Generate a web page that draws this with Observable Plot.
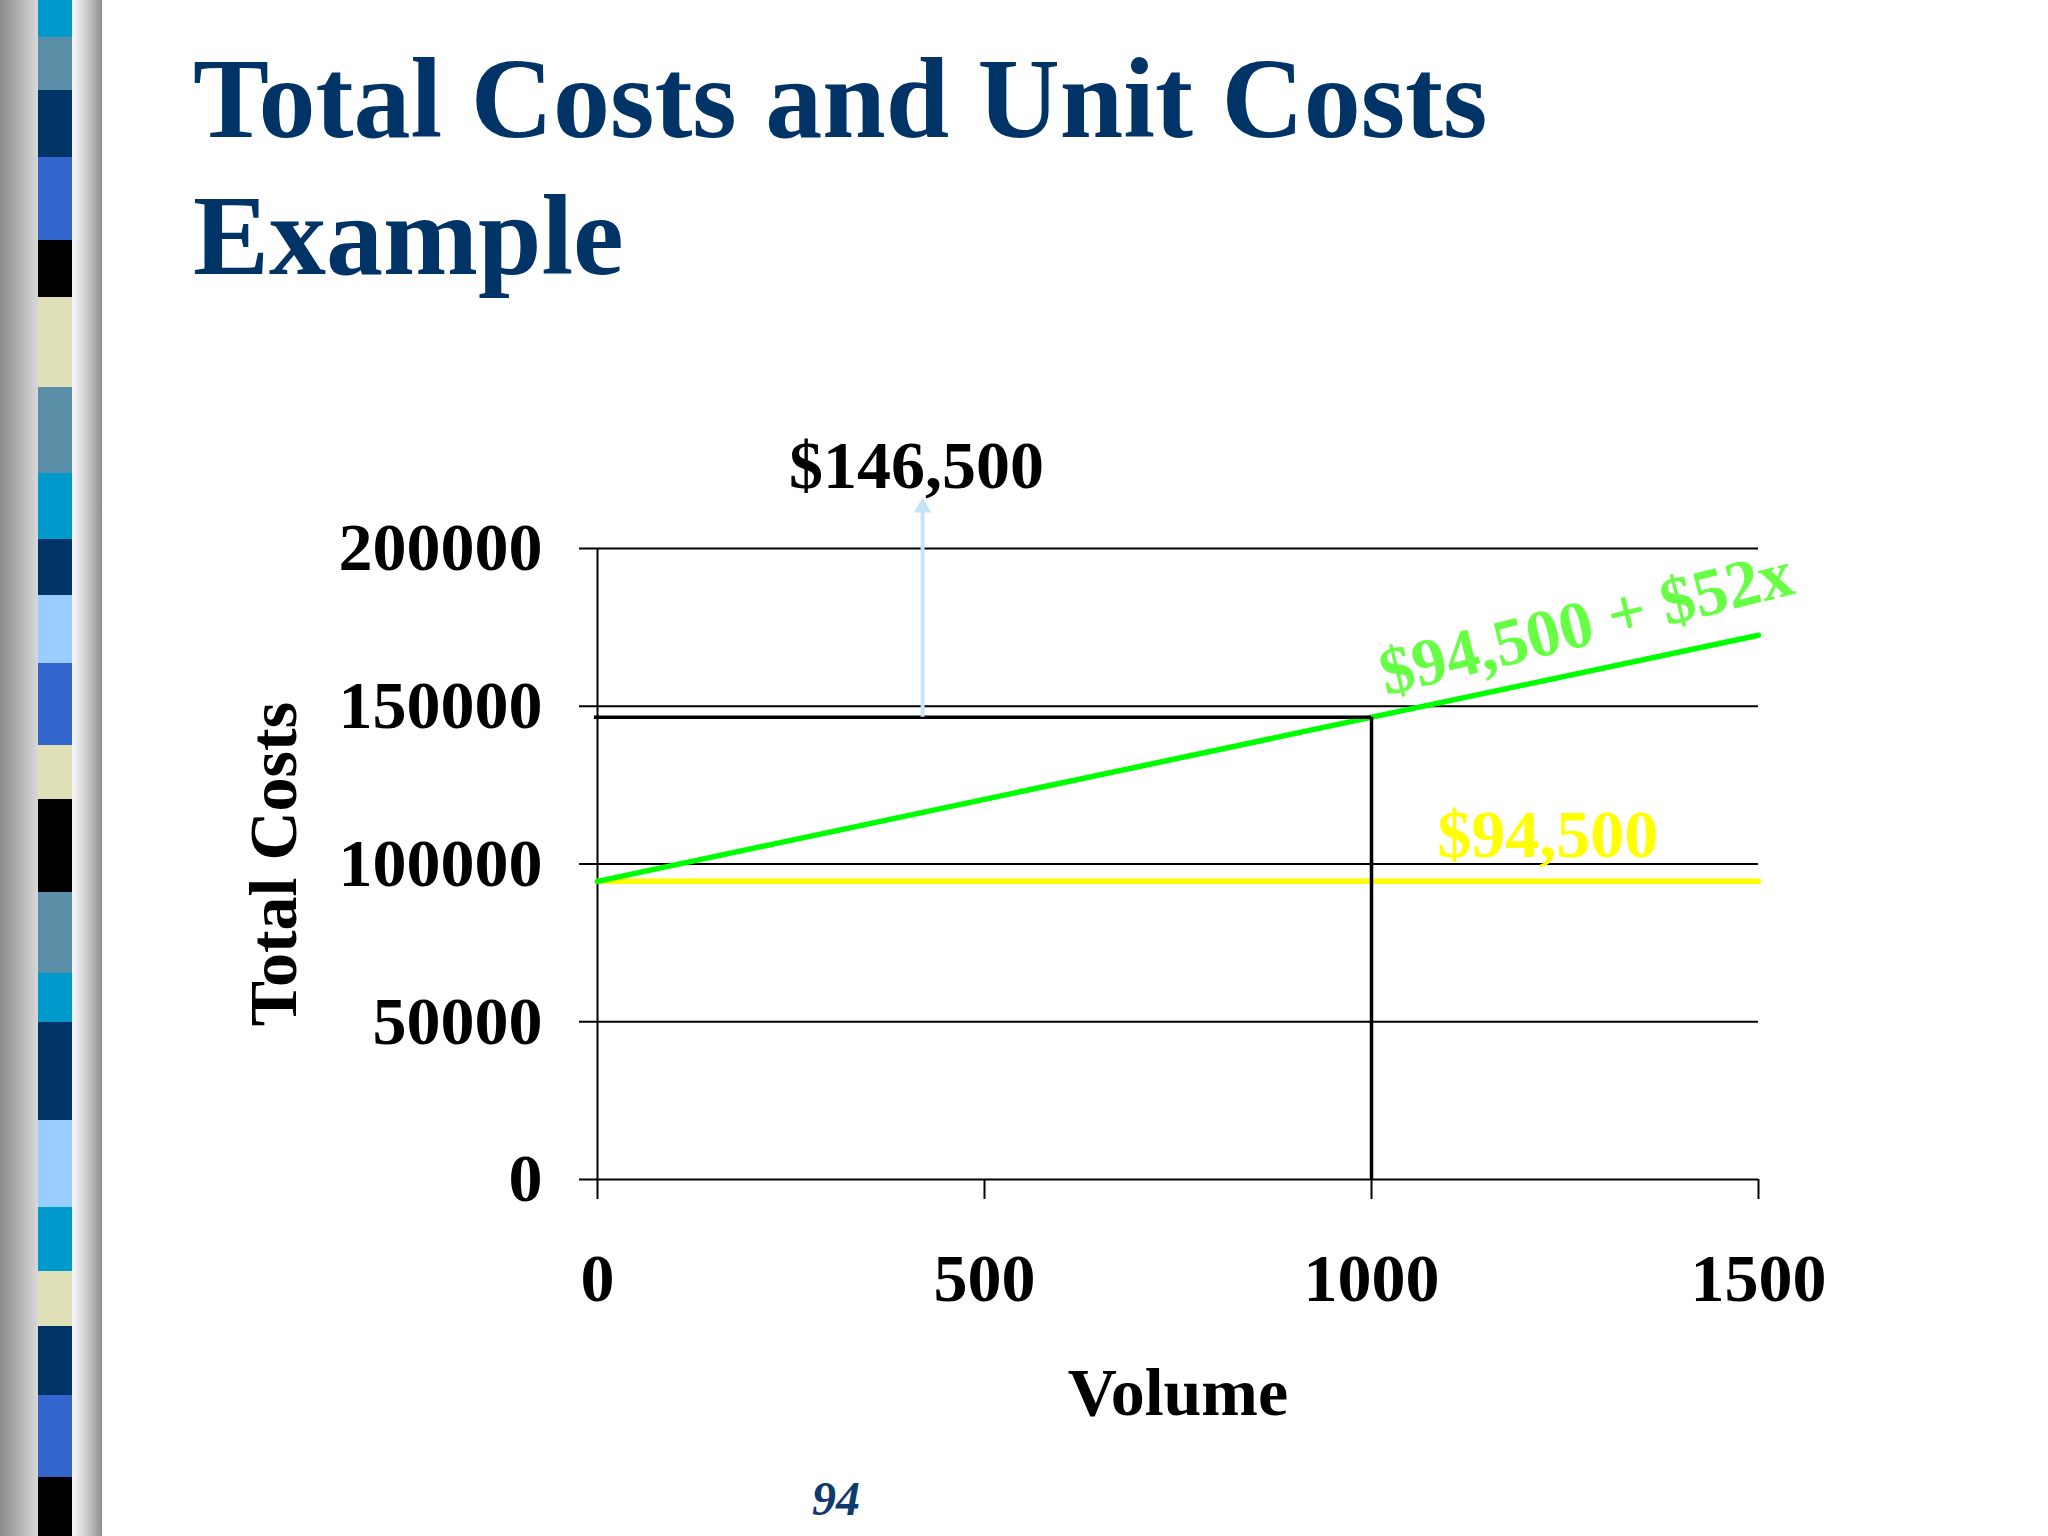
<!DOCTYPE html>
<html>
<head>
<meta charset="utf-8">
<script src="https://cdn.jsdelivr.net/npm/d3@7"></script>
<script src="https://cdn.jsdelivr.net/npm/@observablehq/plot@0.6"></script>
<style>
  html, body { margin: 0; padding: 0; background: #fff; }
  #page { position: relative; width: 2048px; height: 1536px; overflow: hidden; background: #fff; }
  #strip { position: absolute; left: 0; top: 0; width: 102px; height: 1536px;
    background: linear-gradient(to right, #8a8a8a 0px, #d8d8d8 38px, #f3f3f7 74px, #cfcfcf 86px, #8e8e8e 102px); }
  #stripes { position: absolute; left: 38px; top: 0; width: 34px; height: 1536px;
    background: linear-gradient(to bottom,
      #0099cc 0px 37px, #5b8fa8 37px 90px, #003366 90px 157px, #3366cc 157px 240px,
      #000000 240px 297px, #e0e0b8 297px 387px, #5b8fa8 387px 473px, #0099cc 473px 539px,
      #003366 539px 595px, #99ccff 595px 663px, #3366cc 663px 745px, #e0e0b8 745px 799px,
      #000000 799px 892px, #5b8fa8 892px 973px, #0099cc 973px 1022px, #003366 1022px 1120px,
      #99ccff 1120px 1207px, #0099cc 1207px 1271px, #e0e0b8 1271px 1326px, #003366 1326px 1395px,
      #3366cc 1395px 1477px, #000000 1477px 1536px); }
  #title { position: absolute; left: 193px; top: 30px; margin: 0;
    font-family: 'Liberation Serif', 'Times New Roman', serif; font-weight: bold;
    font-size: 114px; line-height: 137px; color: #003366; white-space: nowrap; }
  #chart { position: absolute; left: 0; top: 300px; }
  #pagenum { position: absolute; left: 786px; top: 1475px; width: 100px; text-align: center;
    font-family: 'Liberation Serif', 'Times New Roman', serif; font-style: italic; font-weight: bold;
    font-size: 48px; line-height: 48px; color: #0f3a6e; }
</style>
</head>
<body>
<div id="page">
  <div id="strip"></div>
  <div id="stripes"></div>
  <h1 id="title">Total Costs and Unit Costs<br>Example</h1>
  <div id="chart"></div>
  <div id="pagenum">94</div>
</div>
<script>
// ---- data ----
const volumes = [0, 1500];
const fixedCosts = [94500, 94500];
const totalCosts = [94500, 172500];
const xTicks = [0, 500, 1000, 1500];
const yTicks = [0, 50000, 100000, 150000, 200000];
const markVolume = 1000;
const markTotal = 146500;
const arrowVolume = 420;
const arrowHeadCost = 213000;
const calloutLabel = "$146,500";
const calloutAt = [412, 226000];
const fixedLabel = "$94,500";
const fixedLabelAt = [1085, 109000];
const totalLabel = "$94,500 + $52x";
const totalLabelAt = [1012, 160000];
const xLabel = "Volume";
const yLabel = "Total Costs";

// ---- tables built from the arrays ----
const fixedData = volumes.map((v, i) => ({volume: v, cost: fixedCosts[i]}));
const totalData = volumes.map((v, i) => ({volume: v, cost: totalCosts[i]}));

const font = "'Liberation Serif', 'Times New Roman', serif";
const fs = 68;
const arrowColor = "#c6e3f7";

const chart = Plot.plot({
  width: 2048,
  height: 1236,
  marginLeft: 597,
  marginRight: 290,
  marginTop: 248,
  marginBottom: 357,
  style: {fontFamily: font, background: "transparent", color: "#000", overflow: "visible"},
  x: {domain: [0, 1500]},
  y: {domain: [0, 200000]},
  marks: [
    Plot.gridY(yTicks, {stroke: "#000", strokeOpacity: 1, strokeWidth: 2}),
    Plot.axisY(yTicks, {tickSize: 18, tickPadding: 37, tickFormat: d3.format("d"),
      fontSize: fs, fontWeight: "bold", strokeWidth: 2, label: null}),
    Plot.axisX(xTicks, {tickSize: 20, tickPadding: 53, tickFormat: d3.format("d"),
      fontSize: fs, fontWeight: "bold", strokeWidth: 2, label: null}),
    Plot.ruleX([0], {stroke: "#000", strokeWidth: 2}),
    Plot.line(fixedData, {x: "volume", y: "cost", stroke: "#ffff00", strokeWidth: 5.5}),
    Plot.line(totalData, {x: "volume", y: "cost", stroke: "#00ff00", strokeWidth: 5.5}),
    Plot.ruleY([markTotal], {x1: -4, x2: markVolume, stroke: "#000", strokeWidth: 3.5}),
    Plot.ruleX([markVolume], {y1: 0, y2: markTotal, stroke: "#000", strokeWidth: 3.5}),
    Plot.ruleX([arrowVolume], {y1: markTotal, y2: arrowHeadCost, stroke: arrowColor, strokeWidth: 4}),
    Plot.dot([arrowVolume], {x: d => d, y: arrowHeadCost, symbol: "triangle", r: 6.5,
      fill: arrowColor, stroke: "none"}),
    Plot.text([calloutLabel], {x: calloutAt[0], y: calloutAt[1], text: d => d,
      fontSize: fs, fontWeight: "bold", fill: "#000"}),
    Plot.text([fixedLabel], {x: fixedLabelAt[0], y: fixedLabelAt[1], text: d => d, textAnchor: "start",
      fontSize: fs, fontWeight: "bold", fill: "#ffff00"}),
    Plot.text([totalLabel], {x: totalLabelAt[0], y: totalLabelAt[1], text: d => d, textAnchor: "start",
      rotate: -14, fontSize: 67, fontWeight: "bold", fill: "#66ff44"}),
    Plot.text([xLabel], {frameAnchor: "bottom", dy: 214, text: d => d, textAnchor: "middle",
      lineAnchor: "middle", fontSize: fs, fontWeight: "bold", fill: "#000"}),
    Plot.text([yLabel], {frameAnchor: "left", dx: -323, rotate: -90, text: d => d, textAnchor: "middle",
      lineAnchor: "middle", fontSize: fs, fontWeight: "bold", fill: "#000"})
  ]
});
document.getElementById("chart").appendChild(chart);
</script>
</body>
</html>
